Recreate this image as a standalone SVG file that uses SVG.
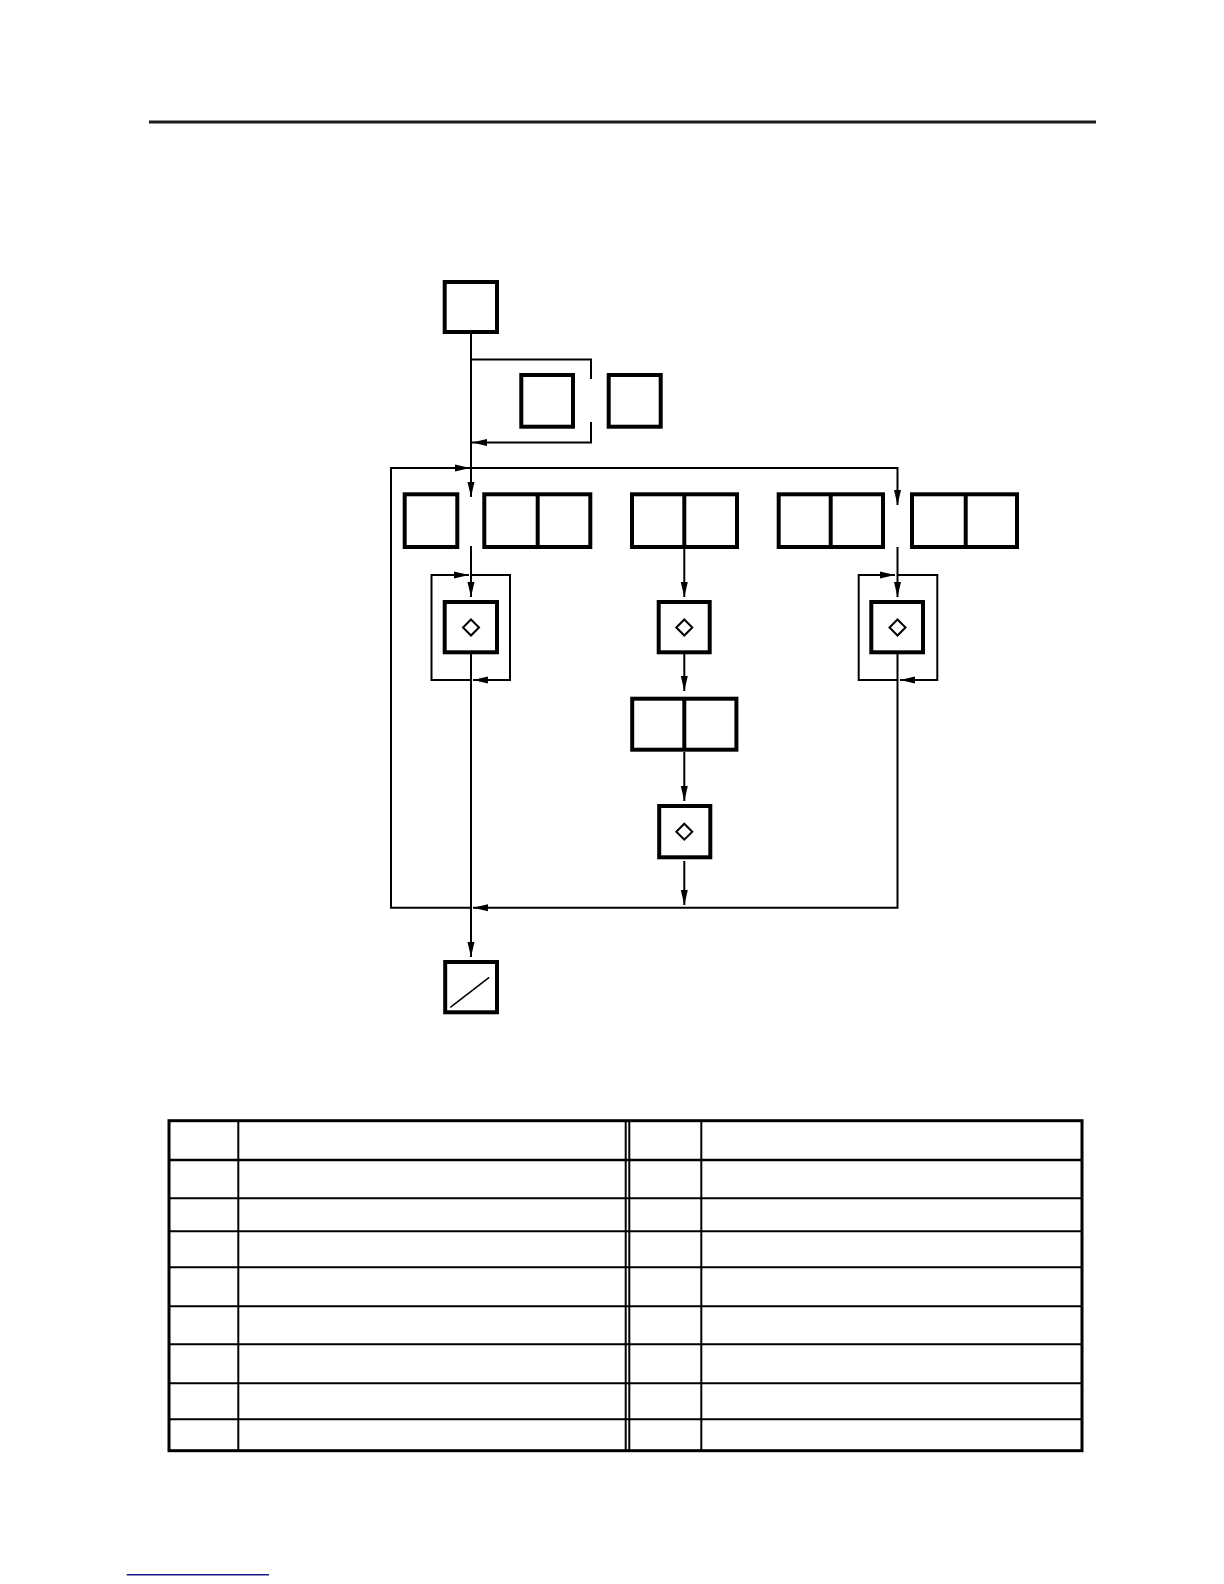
<svg xmlns="http://www.w3.org/2000/svg" width="1224" height="1584" viewBox="0 0 1224 1584">
<style>
.box{fill:#fff;stroke:#000;stroke-width:4}
.div{stroke:#000;stroke-width:4}
.con{fill:none;stroke:#000;stroke-width:2}
.dia{fill:none;stroke:#000;stroke-width:2}
.tbl{fill:none;stroke:#000;stroke-width:2}
.tblo{fill:none;stroke:#000;stroke-width:3}
</style>
<defs>
<marker id="ah" markerWidth="16" markerHeight="8" refX="15" refY="4" orient="auto" markerUnits="userSpaceOnUse">
<path d="M0,0.5 L15,4 L0,7.5 z" fill="#000"/>
</marker>
</defs>
<rect width="1224" height="1584" fill="#fff"/>
<line x1="149" y1="122" x2="1096" y2="122" stroke="#1a1a1a" stroke-width="3"/>

<g id="connectors">
<path class="con" d="M471,334 V497" marker-end="url(#ah)"/>
<path class="con" d="M471,359.5 H591 V379"/>
<path class="con" d="M591,422 V442.5 H472" marker-end="url(#ah)"/>
<path class="con" d="M471,907.7 H391 V468 H470" marker-end="url(#ah)"/>
<path class="con" d="M470,468 H897.5 V505" marker-end="url(#ah)"/>
<path class="con" d="M897.5,654 V907.7 H473" marker-end="url(#ah)"/>
<path class="con" d="M471,546 V597" marker-end="url(#ah)"/>
<path class="con" d="M471,575 H510 V680 H473" marker-end="url(#ah)"/>
<path class="con" d="M471,680 H431.5 V575 H469" marker-end="url(#ah)"/>
<path class="con" d="M471,654 V957" marker-end="url(#ah)"/>
<path class="con" d="M897.5,547 V597" marker-end="url(#ah)"/>
<path class="con" d="M897.5,575 H937.3 V680 H900" marker-end="url(#ah)"/>
<path class="con" d="M897.5,680 H858.7 V575 H895" marker-end="url(#ah)"/>
<path class="con" d="M684.3,549 V597" marker-end="url(#ah)"/>
<path class="con" d="M684.3,654 V691" marker-end="url(#ah)"/>
<path class="con" d="M684.3,752 V801" marker-end="url(#ah)"/>
<path class="con" d="M684.3,861 V905" marker-end="url(#ah)"/>
</g>

<g id="n-start"><rect class="box" x="444.7" y="282" width="52.3" height="50"/></g>
<g id="n-b2"><rect class="box" x="521.3" y="375" width="51.7" height="51.7"/></g>
<g id="n-b3"><rect class="box" x="608.7" y="375" width="52" height="51.7"/></g>

<g id="n-a"><rect class="box" x="404.7" y="494.3" width="52.6" height="52.7"/></g>
<g id="n-b"><rect class="box" x="484.3" y="494.3" width="106" height="52.7"/><line class="div" x1="537.7" y1="494.3" x2="537.7" y2="547"/></g>
<g id="n-c"><rect class="box" x="632" y="494.3" width="105" height="52.7"/><line class="div" x1="684.3" y1="494.3" x2="684.3" y2="547"/></g>
<g id="n-d"><rect class="box" x="778.7" y="494.3" width="104.3" height="52.7"/><line class="div" x1="830.7" y1="494.3" x2="830.7" y2="547"/></g>
<g id="n-e"><rect class="box" x="912" y="494.3" width="105" height="52.7"/><line class="div" x1="965.7" y1="494.3" x2="965.7" y2="547"/></g>

<g id="n-d1"><rect class="box" x="444.7" y="602" width="52.3" height="50.3"/><path class="dia" d="M471,619.5 L479,627.5 L471,635.5 L463,627.5 z"/></g>
<g id="n-d2"><rect class="box" x="658.7" y="602" width="51" height="50.3"/><path class="dia" d="M684.3,619.5 L692.3,627.5 L684.3,635.5 L676.3,627.5 z"/></g>
<g id="n-d3"><rect class="box" x="871.3" y="602" width="51.7" height="50.3"/><path class="dia" d="M897.5,619.5 L905.5,627.5 L897.5,635.5 L889.5,627.5 z"/></g>

<g id="n-f"><rect class="box" x="632.2" y="698.7" width="104.2" height="51"/><line class="div" x1="684.3" y1="698.7" x2="684.3" y2="749.7"/></g>
<g id="n-d4"><rect class="box" x="659.2" y="806" width="51.1" height="51.3"/><path class="dia" d="M684.3,823.7 L692.3,831.7 L684.3,839.7 L676.3,831.7 z"/></g>

<g id="n-end"><rect class="box" x="445.2" y="962" width="51.8" height="50.3"/><line x1="450.3" y1="1007.3" x2="489.2" y2="977.3" stroke="#000" stroke-width="1.5"/></g>

<g id="table">
<rect class="tblo" x="169" y="1120.7" width="913" height="330"/>
<line x1="169" y1="1160" x2="1082" y2="1160" stroke="#000" stroke-width="2.5"/>
<line class="tbl" x1="169" y1="1198.3" x2="1082" y2="1198.3"/>
<line class="tbl" x1="169" y1="1231.3" x2="1082" y2="1231.3"/>
<line class="tbl" x1="169" y1="1267.3" x2="1082" y2="1267.3"/>
<line class="tbl" x1="169" y1="1306.3" x2="1082" y2="1306.3"/>
<line class="tbl" x1="169" y1="1344.3" x2="1082" y2="1344.3"/>
<line class="tbl" x1="169" y1="1383.3" x2="1082" y2="1383.3"/>
<line class="tbl" x1="169" y1="1419.3" x2="1082" y2="1419.3"/>
<line class="tbl" x1="238.3" y1="1120.7" x2="238.3" y2="1450.7"/>
<line class="tbl" x1="625.7" y1="1120.7" x2="625.7" y2="1450.7"/>
<line class="tbl" x1="629.3" y1="1120.7" x2="629.3" y2="1450.7"/>
<line class="tbl" x1="701.3" y1="1120.7" x2="701.3" y2="1450.7"/>
</g>

<line x1="126.7" y1="1574.7" x2="269" y2="1574.7" stroke="#1a1a8c" stroke-width="1.5"/>
</svg>
